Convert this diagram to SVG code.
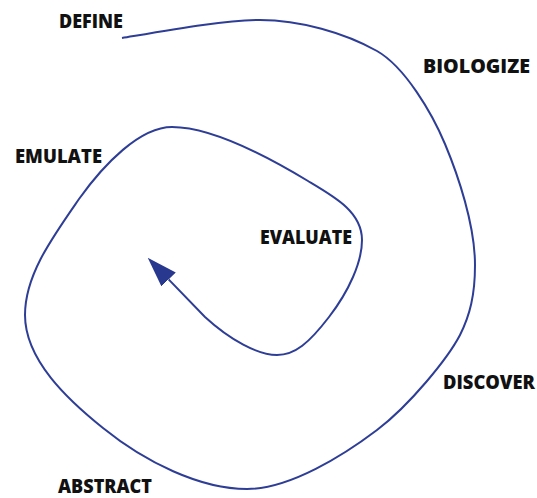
<svg xmlns="http://www.w3.org/2000/svg" width="537" height="498" viewBox="0 0 537 498">
<style>
.lbl{font-family:"Open Sans","Liberation Sans",sans-serif;font-weight:800;font-size:18.5px;fill:#111}
.spiral{fill:none;stroke:#2E3E96;stroke-width:2}
</style>
<defs>
<marker id="ah" markerUnits="userSpaceOnUse" viewBox="0 0 30 20" markerWidth="30" markerHeight="20" refX="0" refY="10" orient="auto">
<path d="M0,0 L30,10 L0,20 z" fill="#28388F"/>
</marker>
</defs>
<rect width="537" height="498" fill="#fff"/>
<g id="connectors">
<path class="spiral" marker-end="url(#ah)" d="M122,38 C175,29 225,20 260,20 C300,20 345,33 377,51 C405,67 432,113 445,144 C458,175 475,225 475,265 C475,295 470,315 460,335 C448,358 410,405 377,430 C344,455 290,489 247,489 C200,489 145,462 103,428 C68,400 25,360 25,315 C25,275 52,238 79,199 C104,164 140,127 172,127 C210,127 265,155 308,181 C335,197 362,212 362,240 C362,262 349,291 329,317 C309,343 295,355 277,355 C258,355 230,340 205,317 L168.6,279.4"/>
</g>
<g id="define"><text class="lbl" x="59" y="28" textLength="64" lengthAdjust="spacingAndGlyphs">DEFINE</text></g>
<g id="biologize"><text class="lbl" x="423" y="73" textLength="107" lengthAdjust="spacingAndGlyphs">BIOLOGIZE</text></g>
<g id="emulate"><text class="lbl" x="15" y="163" textLength="87" lengthAdjust="spacingAndGlyphs">EMULATE</text></g>
<g id="evaluate"><text class="lbl" x="260" y="244" textLength="92" lengthAdjust="spacingAndGlyphs">EVALUATE</text></g>
<g id="discover"><text class="lbl" x="443" y="389" textLength="92" lengthAdjust="spacingAndGlyphs">DISCOVER</text></g>
<g id="abstract"><text class="lbl" x="58" y="493" textLength="94" lengthAdjust="spacingAndGlyphs">ABSTRACT</text></g>
</svg>
